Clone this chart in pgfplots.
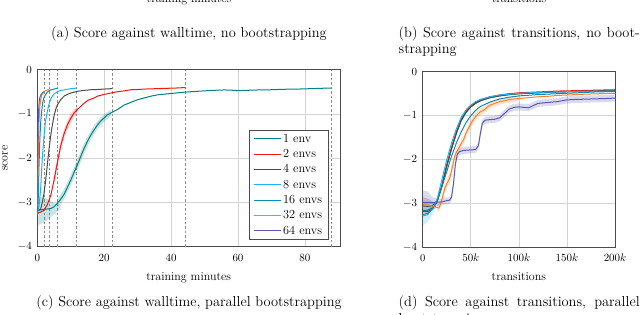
\documentclass[border=0pt]{standalone}
\usepackage{fontspec}
\usepackage{pgfplots}
\pgfplotsset{compat=1.18}
\definecolor{c1}{RGB}{0,128,128}
\definecolor{c2}{RGB}{245,20,20}
\definecolor{c4}{RGB}{75,75,75}
\definecolor{c8}{RGB}{30,180,235}
\definecolor{c16}{RGB}{10,140,180}
\definecolor{c32}{RGB}{255,127,42}
\definecolor{c64}{RGB}{90,90,180}
\pgfplotsset{
  myaxis/.style={
    scale only axis, ymin=-4, ymax=0, ytick={-4,-3,-2,-1,0},
    grid=major, major grid style={draw=black!17, line width=0.6pt},
    axis line style={draw=black!70, line width=0.8pt},
    tick style={draw=none},
    tick label style={font=\fontsize{10.5}{12}\selectfont},
    yticklabel style={xshift=-2pt},
    label style={font=\fontsize{12}{14}\selectfont},
    every axis plot/.append style={line width=1pt},
  },
  band/.style={forget plot, draw=none, fill=#1, fill opacity=0.22},
  vdash/.style={forget plot, black!45, line width=0.6pt, dash pattern=on 2.5pt off 2pt},
}
\begin{document}
\begin{tikzpicture}[x=1pt,y=1pt]
\path[use as bounding box, clip] (0,0) rectangle (640,315);
\node[font=\fontsize{12}{14}\selectfont, anchor=base] at (189,312) {training minutes};
\node[font=\fontsize{12}{14}\selectfont, anchor=base] at (519,312) {transitions};
\node[font=\fontsize{14.4}{17}\selectfont, anchor=base, inner sep=0] at (189,277.6) {(a) Score against walltime, no bootstrapping};
\node[font=\fontsize{14.4}{17}\selectfont, anchor=base west, inner sep=0] at (398.5,277.6) {\makebox[241pt][s]{(b) Score against transitions, no boot-}};
\node[font=\fontsize{14.4}{17}\selectfont, anchor=base west, inner sep=0] at (398.5,261.1) {strapping};
\node[font=\fontsize{14.4}{17}\selectfont, anchor=base, inner sep=0] at (189,8) {(c) Score against walltime, parallel bootstrapping};
\node[font=\fontsize{14.4}{17}\selectfont, anchor=base west, inner sep=0] at (398.5,8) {\makebox[241pt][s]{(d) Score against transitions, parallel}};
\node[font=\fontsize{14.4}{17}\selectfont, anchor=base west, inner sep=0] at (398.5,-8.5) {bootstrapping};

\begin{axis}[myaxis, at={(37.3pt,68.4pt)}, anchor=south west, width=302.7pt, height=177pt,
  xmin=0, xmax=90.5, xtick={0,20,40,60,80},
  xticklabel style={anchor=base, yshift=-15.4pt},
  xlabel={training minutes}, ylabel={score},
  xlabel style={at={(axis description cs:0.5,0)}, anchor=base, yshift=-34.4pt},
  ylabel style={at={(axis description cs:0,0.5)}, anchor=center, yshift=32.3pt},
  legend style={at={(0.962,0.037)}, anchor=south east, draw=black!70, line width=0.8pt,
    font=\fontsize{12.3}{14}\selectfont, cells={anchor=west}, row sep=1.6pt,
    inner xsep=4pt},
  legend image code/.code={\draw[#1,draw=.] (0pt,0pt) -- (27pt,0pt);},
]
\addplot[vdash] coordinates {(88,-4) (88,0)};
\addplot[vdash] coordinates {(44.2,-4) (44.2,0)};
\addplot[vdash] coordinates {(22.4,-4) (22.4,0)};
\addplot[vdash] coordinates {(11.6,-4) (11.6,0)};
\addplot[vdash] coordinates {(6.1,-4) (6.1,0)};
\addplot[vdash] coordinates {(3.6,-4) (3.6,0)};
\addplot[vdash] coordinates {(2.0,-4) (2.0,0)};
\addplot[band=c1] coordinates {(0,-2.9) (1.5,-2.88) (3,-2.92) (4.5,-3.0) (6,-3.05) (7,-3.05) (7,-3.15) (6,-3.2) (4.5,-3.3) (3,-3.4) (1.5,-3.47) (0,-3.52)};
\addplot[band=c1] coordinates {(6,-2.92) (8,-2.7) (10,-2.38) (12,-2.03) (14,-1.66) (16,-1.38) (18,-1.16) (20,-1.01) (22,-0.91) (22,-1.05) (20,-1.17) (18,-1.34) (16,-1.58) (14,-1.9) (12,-2.27) (10,-2.62) (8,-2.94) (6,-3.12)};
\addplot[band=c2] coordinates {(5,-2.4) (6,-2.0) (7,-1.62) (8,-1.35) (9,-1.15) (10,-1.0) (11,-0.9) (12,-0.83) (12,-0.97) (11,-1.06) (10,-1.2) (9,-1.35) (8,-1.55) (7,-1.82) (6,-2.2) (5,-2.6)};
\addplot[c1] coordinates {(0,-3.15) (1,-3.17) (2,-3.16) (3,-3.15) (4,-3.14) (5,-3.1) (6,-3.02) (7,-2.93) (8,-2.82) (9,-2.66) (10,-2.5) (11,-2.32) (12,-2.15) (13,-1.96) (14,-1.78) (15,-1.62) (16,-1.48) (17,-1.36) (18,-1.25) (19,-1.16) (20,-1.09) (21,-1.02) (22,-0.98) (23,-0.94) (24,-0.9) (25,-0.85) (26,-0.8) (28,-0.74) (30,-0.68) (32,-0.64) (34,-0.6) (36,-0.57) (38,-0.555) (40,-0.54) (42,-0.525) (44,-0.51) (46,-0.5) (48,-0.49) (50,-0.48) (52,-0.47) (54,-0.465) (56,-0.46) (58,-0.465) (60,-0.475) (62,-0.47) (64,-0.465) (66,-0.46) (68,-0.46) (70,-0.455) (72,-0.45) (74,-0.445) (76,-0.44) (78,-0.44) (80,-0.435) (82,-0.43) (84,-0.425) (86,-0.42) (88,-0.42)};
\addlegendentry{1 env}
\addplot[c2] coordinates {(0,-3.25) (1,-3.22) (2,-3.18) (3,-3.05) (4,-2.85) (5,-2.5) (6,-2.1) (7,-1.72) (8,-1.45) (9,-1.25) (10,-1.1) (11,-0.98) (12,-0.9) (13,-0.83) (14,-0.76) (15,-0.7) (16,-0.67) (17,-0.64) (18,-0.6) (19,-0.58) (20,-0.56) (22,-0.53) (24,-0.5) (26,-0.48) (28,-0.455) (30,-0.45) (32,-0.44) (34,-0.435) (36,-0.43) (38,-0.425) (40,-0.42) (42,-0.415) (44.2,-0.405)};
\addlegendentry{2 envs}
\addplot[c4] coordinates {(0,-3.2) (0.5,-3.18) (1,-3.15) (1.5,-3.0) (2,-2.8) (2.5,-2.5) (3,-2.15) (3.5,-1.8) (4,-1.5) (4.5,-1.25) (5,-1.05) (5.5,-0.9) (6,-0.8) (7,-0.68) (8,-0.6) (9,-0.56) (10,-0.53) (11,-0.51) (12,-0.49) (14,-0.47) (16,-0.455) (18,-0.45) (20,-0.44) (22.4,-0.43)};
\addlegendentry{4 envs}
\addplot[c8] coordinates {(0,-3.25) (0.5,-3.1) (1,-2.7) (1.5,-2.0) (2,-1.5) (2.5,-1.15) (3,-0.95) (3.5,-0.78) (4,-0.67) (4.5,-0.6) (5,-0.55) (6,-0.5) (7,-0.47) (8,-0.46) (9,-0.445) (10,-0.43) (11.6,-0.42)};
\addlegendentry{8 envs}
\addplot[c16] coordinates {(0,-3.3) (0.25,-3.0) (0.5,-2.2) (0.75,-1.6) (1,-1.2) (1.3,-0.95) (1.6,-0.75) (2,-0.63) (2.5,-0.56) (3,-0.51) (3.5,-0.48) (4,-0.46) (5,-0.44) (6.1,-0.42)};
\addlegendentry{16 envs}
\addplot[c32] coordinates {(0,-3.1) (0.15,-2.5) (0.3,-1.9) (0.5,-1.2) (0.75,-0.85) (1,-0.68) (1.4,-0.57) (1.8,-0.51) (2.4,-0.48) (3,-0.46) (3.6,-0.45)};
\addlegendentry{32 envs}
\addplot[c64] coordinates {(0,-3.2) (0.1,-2.5) (0.2,-1.6) (0.3,-1.1) (0.45,-0.85) (0.6,-0.7) (0.8,-0.62) (1.1,-0.57) (1.5,-0.53) (2.0,-0.5)};
\addlegendentry{64 envs}
\end{axis}

\begin{axis}[myaxis, at={(422.7pt,67.3pt)}, anchor=south west, width=192.3pt, height=176pt,
  xmin=0, xmax=200, xtick={0,50,100,150,200}, xticklabels={0,$50k$,$100k$,$150k$,$200k$},
  xticklabel style={anchor=base, yshift=-14.3pt},
  xlabel={transitions},
  xlabel style={at={(axis description cs:0.5,0)}, anchor=base, yshift=-33.3pt},
]
\addplot[band=c4] coordinates {(0,-2.85) (5,-2.88) (10,-2.95) (14,-3.0) (14,-3.1) (10,-3.15) (5,-3.2) (0,-3.22)};
\addplot[band=c8] coordinates {(0,-3.15) (5,-3.12) (10,-3.05) (15,-2.9) (15,-3.0) (10,-3.25) (5,-3.42) (0,-3.5)};
\addplot[band=c64] coordinates {(0,-2.7) (5,-2.72) (10,-2.85) (15,-2.88) (20,-2.89) (25,-2.86) (28,-2.85) (30,-2.77) (32,-2.47) (34,-2.02) (36,-1.8) (38,-1.74) (42,-1.71) (48,-1.7) (55,-1.69) (58,-1.6) (60,-1.32) (62,-1.09) (65,-1.02) (70,-1.01) (75,-1.0) (80,-0.97) (85,-0.87) (90,-0.77) (95,-0.73) (100,-0.72) (105,-0.73) (110,-0.74) (115,-0.69) (120,-0.64) (130,-0.62) (140,-0.6) (150,-0.56) (160,-0.55) (175,-0.54) (190,-0.53) (200,-0.52)
 (200,-0.68) (190,-0.69) (175,-0.7) (160,-0.71) (150,-0.72) (140,-0.76) (130,-0.78) (120,-0.8) (115,-0.85) (110,-0.9) (105,-0.89) (100,-0.88) (95,-0.89) (90,-0.93) (85,-1.03) (80,-1.13) (75,-1.16) (70,-1.17) (65,-1.18) (62,-1.25) (60,-1.48) (58,-1.76) (55,-1.85) (48,-1.86) (42,-1.87) (38,-1.9) (36,-1.96) (34,-2.18) (32,-2.63) (30,-2.93) (28,-3.0) (25,-3.01) (20,-3.04) (15,-3.06) (10,-3.1) (5,-3.15) (0,-3.15)};
\addplot[band=c32] coordinates {(15,-3.0) (17,-3.02) (20,-2.8) (23,-2.55) (25,-2.45) (28,-2.3) (30,-2.12) (33,-1.85) (35,-1.74) (38,-1.63) (40,-1.55) (43,-1.43) (45,-1.31) (48,-1.18) (50,-1.09) (53,-0.99) (55,-0.93) (58,-0.87) (60,-0.83) (65,-0.77) (70,-0.68) (80,-0.61) (90,-0.56) (100,-0.55)
 (100,-0.67) (90,-0.7) (80,-0.75) (70,-0.84) (65,-0.93) (60,-0.99) (58,-1.03) (55,-1.11) (53,-1.17) (50,-1.27) (48,-1.36) (45,-1.49) (43,-1.61) (40,-1.73) (38,-1.81) (35,-1.92) (33,-2.05) (30,-2.38) (28,-2.54) (25,-2.65) (23,-2.75) (20,-3.0) (17,-3.18) (15,-3.15)};
\addplot[c1] coordinates {(0,-3.15) (5,-3.15) (10,-3.1) (15,-2.95) (20,-2.6) (25,-2.15) (30,-1.75) (35,-1.4) (40,-1.12) (45,-0.93) (50,-0.8) (55,-0.72) (60,-0.66) (70,-0.59) (80,-0.55) (90,-0.52) (100,-0.5) (120,-0.48) (140,-0.46) (160,-0.45) (180,-0.44) (200,-0.43)};
\addplot[c2] coordinates {(0,-3.18) (5,-3.18) (10,-3.12) (15,-2.95) (20,-2.58) (25,-2.12) (30,-1.72) (35,-1.37) (40,-1.08) (45,-0.9) (50,-0.78) (55,-0.7) (60,-0.64) (70,-0.57) (80,-0.53) (90,-0.5) (100,-0.48) (120,-0.46) (140,-0.44) (160,-0.43) (180,-0.42) (200,-0.41)};
\addplot[c4] coordinates {(0,-3.05) (5,-3.06) (10,-3.05) (15,-2.93) (20,-2.6) (25,-2.15) (30,-1.75) (35,-1.4) (40,-1.1) (45,-0.92) (50,-0.8) (55,-0.72) (60,-0.66) (70,-0.59) (80,-0.55) (90,-0.52) (100,-0.5) (120,-0.48) (140,-0.46) (160,-0.45) (180,-0.44) (200,-0.43)};
\addplot[c8] coordinates {(0,-3.28) (5,-3.25) (10,-3.12) (15,-2.9) (20,-2.45) (25,-2.0) (30,-1.62) (35,-1.3) (40,-1.04) (45,-0.87) (50,-0.76) (55,-0.68) (60,-0.63) (70,-0.57) (80,-0.53) (90,-0.51) (100,-0.49) (120,-0.47) (140,-0.46) (160,-0.45) (180,-0.45) (200,-0.44)};
\addplot[c16] coordinates {(0,-3.25) (5,-3.22) (10,-3.12) (15,-2.95) (20,-2.62) (25,-2.27) (30,-1.92) (35,-1.62) (40,-1.37) (45,-1.16) (50,-1.0) (55,-0.88) (60,-0.79) (70,-0.69) (80,-0.62) (90,-0.58) (100,-0.55) (120,-0.52) (140,-0.5) (160,-0.48) (180,-0.46) (200,-0.45)};
\addplot[c32] coordinates {(0,-3.02) (5,-3.03) (10,-3.05) (14,-3.08) (17,-3.1) (20,-2.9) (23,-2.65) (25,-2.55) (28,-2.42) (30,-2.25) (33,-1.95) (35,-1.83) (38,-1.72) (40,-1.64) (43,-1.52) (45,-1.4) (48,-1.27) (50,-1.18) (53,-1.08) (55,-1.02) (58,-0.95) (60,-0.91) (63,-0.88) (65,-0.85) (68,-0.79) (70,-0.76) (75,-0.72) (80,-0.68) (85,-0.66) (90,-0.63) (95,-0.62) (100,-0.61) (110,-0.59) (120,-0.57) (130,-0.56) (140,-0.54) (150,-0.53) (170,-0.51) (200,-0.49)};
\addplot[c64] coordinates {(0,-2.97) (10,-2.97) (20,-2.96) (25,-2.93) (28,-2.92) (30,-2.85) (32,-2.55) (34,-2.1) (36,-1.88) (38,-1.82) (42,-1.79) (48,-1.78) (55,-1.77) (58,-1.68) (60,-1.4) (62,-1.17) (65,-1.1) (70,-1.09) (75,-1.08) (80,-1.05) (85,-0.95) (90,-0.85) (95,-0.81) (100,-0.8) (105,-0.81) (110,-0.82) (115,-0.77) (120,-0.72) (130,-0.7) (140,-0.68) (150,-0.64) (160,-0.63) (175,-0.62) (190,-0.61) (200,-0.6)};
\end{axis}
\end{tikzpicture}
\end{document}
